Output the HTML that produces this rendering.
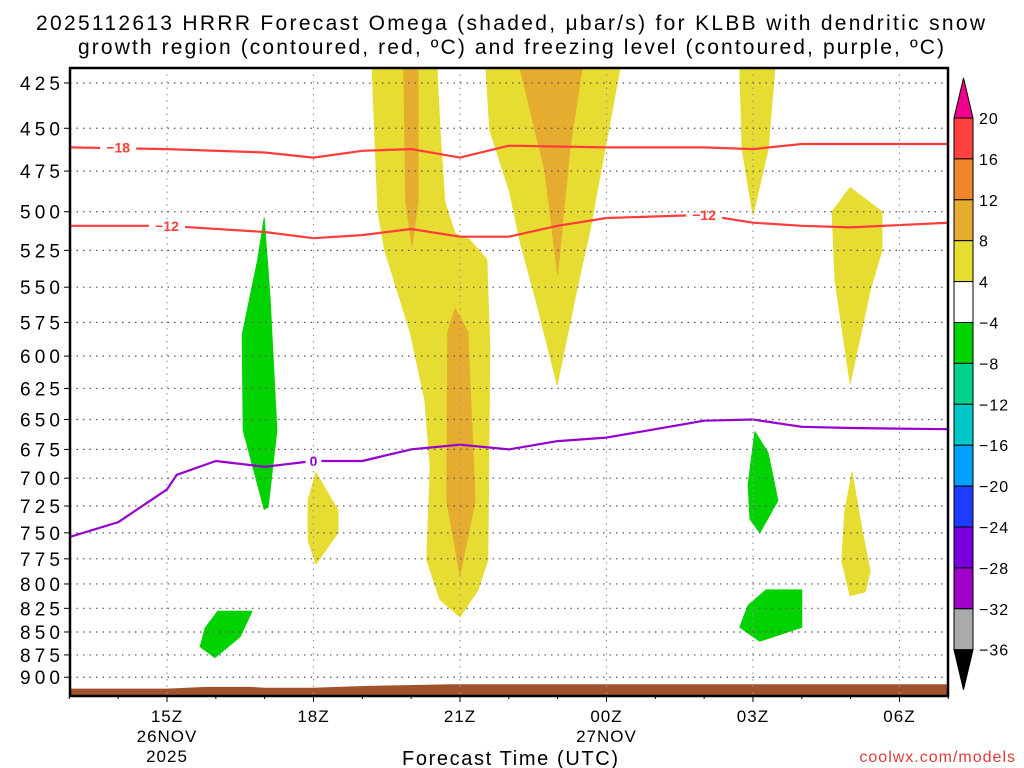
<!DOCTYPE html>
<html><head><meta charset="utf-8"><style>
body{margin:0;background:#fff;}
svg{display:block;font-family:"Liberation Sans",sans-serif;}
</style></head><body>
<svg id="chart" width="1024" height="768" viewBox="0 0 1024 768" xmlns="http://www.w3.org/2000/svg">
<text x="36" y="30" font-size="21" textLength="949" lengthAdjust="spacing" fill="#000">2025112613 HRRR Forecast Omega (shaded, μbar/s) for KLBB with dendritic snow</text>
<text x="78" y="54" font-size="21" textLength="866" lengthAdjust="spacing" fill="#000">growth region (contoured, red, ºC) and freezing level (contoured, purple, ºC)</text>
<g id="plot"></g>
<text x="402" y="765" font-size="20" textLength="216" lengthAdjust="spacing">Forecast Time (UTC)</text>
<text x="1016" y="762" font-size="16" text-anchor="end" fill="#e03c3c" letter-spacing="1">coolwx.com/models</text>
<g id="cbar"></g>
</svg>
<script>
const pTicks=[425,450,475,500,525,550,575,600,625,650,675,700,725,750,775,800,825,850,875,900];
const tTicks=[0,3,6,9,12,15];
const tLabels=[["15Z","26NOV","2025"],["18Z"],["21Z"],["00Z","27NOV"],["03Z"],["06Z"]];
const cbLevels=["20","16","12","8","4","−4","−8","−12","−16","−20","−24","−28","−32","−36"];
const cbColors=["#ff4040","#f0862a","#e6ac30","#e6dc32","#ffffff","#00d200","#00d28c","#00c8c8","#00a0ff","#1e3cff","#7800dc","#a000c8","#aaaaaa"];
const minus18H=[-2,0,2,3,4,5,6,7,9,11,12,13,16];
const minus18P=[461,462,464,467,463,462,467,460,461,461,462,459,459];
const minus12H=[-2,0,2,3,4,5,6,7,8,9,11,12,13,14,16];
const minus12P=[509,509,513,517,515,511,516,516,509,504,502,507,509,510,507];
const zeroH=[-2,-1,0,0.2,1,2,3,4,5,6,7,8,9,10,11,12,13,14,16];
const zeroP=[754,740,710,697,685,690,685,685,675,671,675,668,665,658,651,650,656,657,658];
const terrainH=[-2,0,0.8,1.7,2,3,4,5.8,6,16];
const terrainP=[913,913,911,911,912,912,910,908,908,908];
const shapes=[
 {c:"#e6dc32",h:[4.2,4.32,4.46,4.98,5.28,5.39,5.32,5.59,6.0,6.37,6.57,6.61,6.55,6.2,5.9,5.69,5.59,5.53],p:[417,500,525,582,634,690,776,816,834,806,776,594,531,518,514,494,451,417]},
 {c:"#e6dc32",h:[6.53,6.61,7.02,7.23,7.54,7.99,8.36,8.66,8.97,9.28],p:[417,451,488,519,557,622,557,512,462,417]},
 {c:"#e6dc32",h:[11.73,12.45,12.31,12.0,11.78],p:[417,417,462,502,462]},
 {c:"#e6dc32",h:[13.99,14.64,14.64,14.4,13.99,13.68,13.62],p:[485,500,525,552,621,545,500]},
 {c:"#e6dc32",h:[3.05,3.5,3.5,3.05,2.89,2.89],p:[695,729,750,780,757,720]},
 {c:"#e6dc32",h:[14.03,14.24,14.4,14.3,13.99,13.82,13.88],p:[695,749,787,808,812,777,730]},
 {c:"#e6ac30",h:[4.85,5.14,5.14,5.02,4.89],p:[417,417,494,522,494]},
 {c:"#e6ac30",h:[5.75,5.9,6.16,6.31,6.0,5.73],p:[582,565,582,720,791,720]},
 {c:"#e6ac30",h:[7.23,8.5,8.25,8.0,7.74],p:[417,417,462,541,475]},
 {c:"#00d200",h:[1.99,2.11,2.25,2.07,1.99,1.56,1.54,1.86],p:[504,557,659,726,728,659,584,531]},
 {c:"#00d200",h:[12.04,12.31,12.51,12.14,11.94,11.9],p:[660,678,720,750,737,706]},
 {c:"#00d200",h:[12.27,13.0,13.0,12.14,11.73,11.9],p:[806,806,845,860,845,822]},
 {c:"#00d200",h:[1.04,1.74,1.5,0.98,0.68,0.78],p:[828,828,855,878,866,846]}
];
const X0=70,X1=948,Y0=68,Y1=696;
const xs=h=>167+48.83*h;
const ys=p=>83+792*Math.log(p/425);
const NS="http://www.w3.org/2000/svg";
const plot=document.getElementById('plot');
function mk(t,a,parent){const e=document.createElementNS(NS,t);for(const k in a)e.setAttribute(k,a[k]);(parent||plot).appendChild(e);return e;}
const clip=mk('clipPath',{id:'pc'});mk('rect',{x:X0,y:Y0,width:X1-X0,height:Y1-Y0},clip);
const g=mk('g',{'clip-path':'url(#pc)'});
shapes.forEach((s,i)=>{
 const d=s.h.map((h,j)=>(j?'L':'M')+xs(h).toFixed(1)+','+ys(s.p[j]).toFixed(1)).join('')+'Z';
 const el=mk('path',{d:d,fill:s.c,stroke:s.c,'stroke-width':1,'stroke-linejoin':'round'},g);
 
 
});
pTicks.forEach(p=>{
 const l=mk('line',{x1:X0,x2:X1,y1:ys(p),y2:ys(p),stroke:'#555','stroke-width':1.2,'stroke-dasharray':'1.5,5'});
 
 
 const tk=mk('line',{x1:X0-6,x2:X0,y1:ys(p),y2:ys(p),stroke:'#000'});
 
 
 const t=mk('text',{x:20,y:ys(p)+7,'font-size':19,textLength:40,lengthAdjust:'spacing'});
 t.textContent=p;
 
 
});
tTicks.forEach((h,i)=>{
 const l=mk('line',{x1:xs(h),x2:xs(h),y1:Y0,y2:Y1,stroke:'#999','stroke-width':1.2,'stroke-dasharray':'1.5,5'});
 
 
 tLabels[i].forEach((s,j)=>{
  const t=mk('text',{x:xs(h),y:722+j*20,'font-size':17,'text-anchor':'middle','letter-spacing':1});
  t.textContent=s;
  
  
 });
});
for(let h=-2;h<=16;h++){
 const tk=mk('line',{x1:xs(h),x2:xs(h),y1:Y1,y2:Y1+(h%3==0?6:3),stroke:'#000'});
 
 
}
let td='M'+xs(-2)+','+Y1;terrainH.forEach((h,j)=>td+='L'+xs(h).toFixed(1)+','+(ys(terrainP[j])).toFixed(1));td+='L'+xs(16)+','+Y1+'Z';
const ter=mk('path',{d:td,fill:'#a0522d'},g);


function line(H,P,col,name){
 const d=H.map((h,j)=>(j?'L':'M')+xs(h).toFixed(1)+','+ys(P[j]).toFixed(1)).join('');
 const e=mk('path',{d:d,fill:'none',stroke:col,'stroke-width':2.2,'stroke-linejoin':'round'},g);
 
 
}
line(minus18H,minus18P,'#ff3c3c','contour-minus18');
line(minus12H,minus12P,'#ff3c3c','contour-minus12');
line(zeroH,zeroP,'#9600d2','freezing-level-contour');
function lab(h,p,s,col,name){
 mk('rect',{x:xs(h)-s.length*5-3,y:ys(p)-8,width:s.length*10+6,height:15,fill:'#fff'},g);
 const t=mk('text',{x:xs(h),y:ys(p)+5,'font-size':14,'font-weight':'bold','text-anchor':'middle',fill:col},g);
 t.textContent=s;
 
 
}
lab(-1,461,'−18','#ff3c3c','label-minus18');
lab(0,509,'−12','#ff3c3c','label-minus12-a');
lab(11,502,'−12','#ff3c3c','label-minus12-b');
lab(3,685,'0','#9600d2','label-zero');
const fr=mk('rect',{x:X0,y:Y0,width:X1-X0,height:Y1-Y0,fill:'none',stroke:'#000','stroke-width':2.5});


const cb=document.getElementById('cbar');
const bx=954,bw=19,bt=118,bh=40.9;
mk('path',{d:`M${bx},${bt}L${bx+bw/2},78L${bx+bw},${bt}Z`,fill:'#f0008c',stroke:'#000'},cb);
cbColors.forEach((c,i)=>{
 const r=mk('rect',{x:bx,y:bt+i*bh,width:bw,height:bh,fill:c,stroke:'#000','stroke-width':1},cb);
 
 
});
const be=bt+cbColors.length*bh;
mk('path',{d:`M${bx},${be}L${bx+bw/2},${be+40}L${bx+bw},${be}Z`,fill:'#000',stroke:'#000'},cb);
cbLevels.forEach((s,i)=>{
 const t=mk('text',{x:979,y:bt+i*bh+6,'font-size':16,'letter-spacing':1},cb);
 t.textContent=s;
 
 
});
</script>
</body></html>
